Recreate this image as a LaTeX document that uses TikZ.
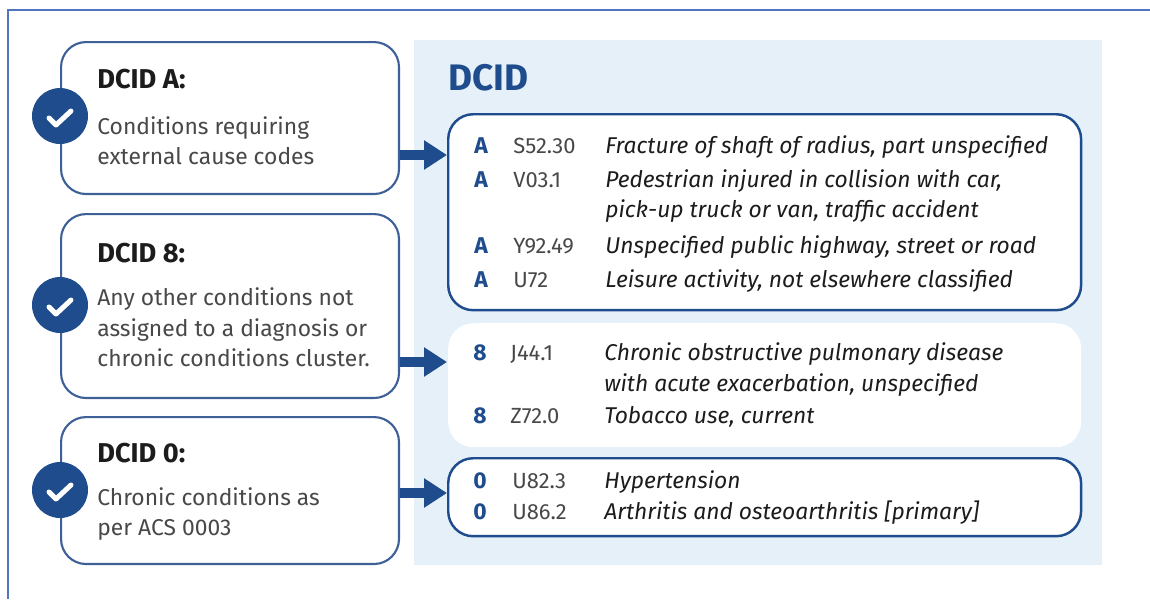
\documentclass[tikz,border=0pt]{standalone}
\usepackage{fontspec}
\setmainfont{Fira Sans}
\usetikzlibrary{arrows.meta,positioning}
\definecolor{dcidblue}{RGB}{30,76,140}
\definecolor{boxline}{RGB}{62,96,150}
\definecolor{panelblue}{RGB}{229,240,249}
\definecolor{frameblue}{RGB}{82,116,190}
\definecolor{bodygray}{RGB}{72,72,72}
\definecolor{headgray}{RGB}{28,28,28}
\tikzset{
	leftbox/.style={draw=boxline, line width=1.2pt, fill=white, rounded corners=0.5cm, minimum width=6.76cm, anchor=north west, inner sep=0},
	codebox/.style={draw=dcidblue, line width=1.4pt, fill=white, rounded corners=0.5cm, minimum width=12.66cm, anchor=north west, inner sep=0},
	tick/.style={fill=dcidblue, circle, minimum size=1.12cm, inner sep=0},
	heading/.style={anchor=base west, inner sep=0, text=headgray, font=\fontsize{15.5}{18}\selectfont\bfseries},
	body/.style={anchor=base west, inner sep=0, text=bodygray, font=\fontsize{13}{15}\selectfont},
	letter/.style={anchor=base west, inner sep=0, text=dcidblue, font=\fontsize{13}{15}\selectfont\bfseries},
	code/.style={anchor=base west, inner sep=0, text=bodygray, font=\fontsize{12.5}{15}\selectfont},
	descr/.style={anchor=base west, inner sep=0, text=headgray, font=\fontsize{13}{15}\selectfont\itshape},
	bigarrow/.style={draw=dcidblue, line width=0.2cm, -{Triangle[width=0.56cm, length=0.46cm]}},
}
\begin{document}
\begin{tikzpicture}[x=0.02cm, y=-0.02cm]
	\useasboundingbox (0,0) rectangle (1150,599);
	
	% frame and panel
	\draw[frameblue, line width=1.5pt] (8,599) -- (8,10) -- (1150,10);
	\fill[panelblue] (414,40) rectangle (1102,565);
	\node[anchor=base west, inner sep=0, text=dcidblue, font=\fontsize{21}{25}\selectfont\bfseries] (title) at (448,90) {DCID};
	
	% left boxes
	\node[leftbox, minimum height=3.04cm] (boxA) at (60,41) {};
	\node[leftbox, minimum height=3.68cm] (box8) at (60,213) {};
	\node[leftbox, minimum height=2.94cm] (box0) at (60,416) {};
	
	\node[heading] (headA) at (97,88) {DCID A:};
	\node[body] (txtA1) at (97,134) {Conditions requiring};
	\node[body] (txtA2) at (97,164) {external cause codes};
	
	\node[heading] (head8) at (97,262) {DCID 8:};
	\node[body] (txt81) at (97,305) {Any other conditions not};
	\node[body] (txt82) at (97,336) {assigned to a diagnosis or};
	\node[body] (txt83) at (97,366) {chronic conditions cluster.};
	
	\node[heading] (head0) at (97,462) {DCID 0:};
	\node[body] (txt01) at (97,505) {Chronic conditions as};
	\node[body] (txt02) at (97,535) {per ACS 0003};
	
	% ticks
	\foreach \n/\y in {A/116, 8/305, 0/490}{
		\node[tick] (tick\n) at (60,\y) {};
		\draw[white, line width=0.1cm, line cap=round, line join=round] ([shift={(-11,2)}]tick\n.center) -- ++(7,7) -- ++(15,-14);
	}
	
	% code boxes
	\node[codebox, minimum height=3.92cm] (codeA) at (447,113) {};
	\node[codebox, draw=none, minimum height=2.48cm] (code8) at (447,322) {};
	\node[codebox, minimum height=1.56cm] (code0) at (447,457) {};
	
	\node[letter] (lA1) at (474,153) {A};
	\node[code] (cA1) at (513,153) {S52.30};
	\node[descr] (dA1) at (605,153) {Fracture of shaft of radius, part unspecified};
	\node[letter] (lA2) at (474,187) {A};
	\node[code] (cA2) at (513,187) {V03.1};
	\node[descr] (dA2) at (605,187) {Pedestrian injured in collision with car,};
	\node[descr] (dA3) at (605,217) {pick-up truck or van, traffic accident};
	\node[letter] (lA3) at (474,253) {A};
	\node[code] (cA3) at (513,253) {Y92.49};
	\node[descr] (dA4) at (605,253) {Unspecified public highway, street or road};
	\node[letter] (lA4) at (474,287) {A};
	\node[code] (cA4) at (513,287) {U72};
	\node[descr] (dA5) at (605,287) {Leisure activity, not elsewhere classified};
	
	\node[letter] (l81) at (473,360) {8};
	\node[code] (c81) at (510,360) {J44.1};
	\node[descr] (d81) at (604,360) {Chronic obstructive pulmonary disease};
	\node[descr] (d82) at (604,391) {with acute exacerbation, unspecified};
	\node[letter] (l82) at (473,423) {8};
	\node[code] (c82) at (510,423) {Z72.0};
	\node[descr] (d83) at (604,423) {Tobacco use, current};
	
	\node[letter] (l01) at (473,488) {0};
	\node[code] (c01) at (512,488) {U82.3};
	\node[descr] (d01) at (604,488) {Hypertension};
	\node[letter] (l02) at (473,519) {0};
	\node[code] (c02) at (512,519) {U86.2};
	\node[descr] (d02) at (604,519) {Arthritis and osteoarthritis [primary]};
	
	% arrows
	\coordinate (rowA) at (0,155);
	\coordinate (row8) at (0,362);
	\coordinate (row0) at (0,493);
	\draw[bigarrow] (boxA.east |- rowA) -- (codeA.west |- rowA);
	\draw[bigarrow] (box8.east |- row8) -- (code8.west |- row8);
	\draw[bigarrow] (box0.east |- row0) -- (code0.west |- row0);
\end{tikzpicture}
\end{document}
